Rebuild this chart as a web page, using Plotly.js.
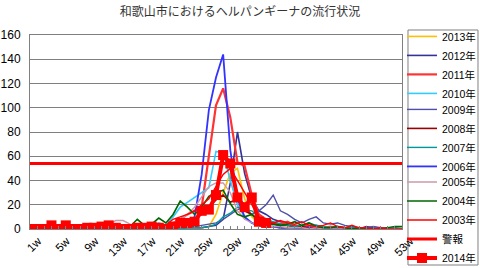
<!DOCTYPE html>
<html><head><meta charset="utf-8">
<script src="https://cdn.plot.ly/plotly-3.0.1.min.js"></script>
<style>body{margin:0;background:#fff}</style>
</head><body><div id="chart" style="width:480px;height:268px"></div>
<script>
const weekLabels = ['1w','2w','3w','4w','5w','6w','7w','8w','9w','10w','11w','12w','13w','14w','15w','16w','17w','18w','19w','20w','21w','22w','23w','24w','25w','26w','27w','28w','29w','30w','31w','32w','33w','34w','35w','36w','37w','38w','39w','40w','41w','42w','43w','44w','45w','46w','47w','48w','49w','50w','51w','52w','53w'];
const shownTicks = ['1w','5w','9w','13w','17w','21w','25w','29w','33w','37w','41w','45w','49w','53w'];

const y2013 = [0,0,0,0,0,0,0,0,0,0,0,0,0,0,0,0,0,0,0,0,0,0,1,1,1, 2,12,30,46,50,25,10,5,3,2, 1,1,2,1,0,1,0,0,1,0,0,0,0,0,0,0,0,0];
const y2012 = [0,0,0,0,0,0,0,0,0,0,0,0,0,0,0,0,0,0,0,0,1,1,1,1,1, 2,3,8,38,80,46,25,15,12,8, 6,5,3,2,2,3,2,1,2,1,1,0,2,1,0,1,0,0];
const y2011 = [0,0,0,0,0,0,0,0,0,0,0,0,0,1,1,1,1,2,2,3, 5,8,12,15,18,60,102,116,92,55,52,28,12,8,5, 4,6,3,2,3,2,1,2,1,1,0,1,0,0,1,0,0,0];
const y2010 = [0,0,0,0,0,0,0,0,0,0,0,0,1,1,2,2,3,3,5,3, 10,18,22,26,30,34,64,63,40,20,10,5,3,2,2, 1,1,1,0,1,0,0,0,0,0,0,0,0,0,0,0,0,0];
const y2009 = [0,0,0,0,0,0,0,0,0,0,0,0,0,0,0,0,0,0,1,0,1,1,2,2, 3,4,5,8,12,16,18,12,15,20,28,15,12,8,5,8,10,5,4,5,3, 2,1,1,2,1,0,1,0];
const y2008 = [0,0,0,0,0,0,0,0,0,0,0,0,0,0,0,0,0,0,1,1,2, 3,5,8,12,18,24,28,22,25,15,12,8,5,4, 3,3,2,2,1,1,1,0,1,0,0,0,0,0,0,0,0,0];
const y2007 = [0,0,0,0,0,0,0,0,0,0,0,0,0,0,0,0,0,0,0,0,0,0,1,1,1, 2,4,10,13,18,16,15,10,8,6,4,3,2, 3,5,3,2,1,1,0,1,0,0,0,0,0,0,0];
const y2006 = [0,0,0,0,0,0,0,0,0,0,0,0,0,0,0,0,0,0,0,1,1,2, 3,10,45,98,125,144,65,25,10,5,3,2,2, 1,1,1,0,1,0,0,1,0,0,0,0,0,0,0,0,0,0];
const y2005 = [0,0,0,0,0,0,0,0,1,1,2,4,7,7,4,2,2,3,3,4,5, 8,12,18,26,35,38,38,30,15,8,5,4,3,2, 2,1,1,1,0,1,0,0,0,0,0,0,0,0,0,0,0,0];
const y2004 = [0,0,0,0,0,0,0,0,0,0,0,0,0,1,2,8,3,4,9,5,12, 23,18,12,18,27,30,32,21,12,10,12,6,5,4, 3,4,6,3,5,2,1,1,2,1,0,1,0,0,0,1,2,2];
const y2003 = [0,0,0,0,0,0,0,0,0,0,0,0,0,0,1,1,1,2,2,3, 8,10,12,15,20,25,35,45,50,40,30,20,10,6,5, 7,5,4,6,3,2,3,5,2,1,3,1,1,0,1,0,0,0];
const alarmLevel = 54;
const y2014 = [0,0,0,3,0,3,0,0,1,1,2,3,1,0,0,1,1,2,1,0,2, 5,5,6,15,16,28,61,54,26,18,26,6,5];

const seriesNames = ['2013年','2012年','2011年','2010年','2009年','2008年','2007年','2006年','2005年','2004年','2003年'];
const seriesData = [y2013,y2012,y2011,y2010,y2009,y2008,y2007,y2006,y2005,y2004,y2003];
const seriesColors = ['#FFC000','#333399','#FF3333','#33CCFF','#5050A8','#990000','#009999','#3333FF','#CC99AA','#006600','#FF0000'];
const seriesWidths = [1.6,1.6,2.2,1.6,1.4,1.6,1.4,1.8,1.4,1.6,1.4];
const legendOf = i => i < 4 ? 'legend' : (i < 8 ? 'legend2' : 'legend3');

const traces = seriesNames.map((n,i)=>({
  type:'scatter', mode:'lines', name:n, legend:legendOf(i), x:weekLabels, y:seriesData[i],
  line:{color:seriesColors[i], width:seriesWidths[i]}
}));
traces.push({type:'scatter', mode:'lines', name:'警報', legend:'legend3', x:weekLabels, y:weekLabels.map(()=>alarmLevel),
  line:{color:'#FF0000', width:3}});
traces.push({type:'scatter', mode:'lines+markers', name:'2014年', legend:'legend3', x:weekLabels.slice(0,y2014.length), y:y2014,
  line:{color:'#FF0000', width:4}, marker:{symbol:'square', size:10, color:'#FF0000'}});

const font = 'Liberation Sans, Arial, "Noto Sans CJK JP", sans-serif';
const legendStyle = yTop => ({x:1.0, xanchor:'left', y:yTop, yanchor:'top', borderwidth:0, bgcolor:'rgba(0,0,0,0)',
    traceorder:'normal', maxheight:300, font:{family:font, size:10.5, color:'#000'}});
const layout = {
  width:480, height:268,
  margin:{l:30, r:78, t:35, b:39, autoexpand:false},
  paper_bgcolor:'#fff', plot_bgcolor:'#fff',
  font:{family:font, size:12, color:'#000'},
  title:{text:'和歌山市におけるヘルパンギーナの流行状況', font:{family:'"Noto Sans CJK JP", sans-serif', size:12, color:'#333'}, x:0.5, xanchor:'center', y:0.97, yanchor:'top'},
  showlegend:true,
  legend:legendStyle(1.0675),
  legend2:legendStyle(0.6912),
  legend3:legendStyle(0.3170),
  shapes:[{type:'rect', xref:'paper', yref:'paper', x0:1.0161, x1:1.2043, y0:-0.1856, y1:1.0258,
    line:{color:'#808080', width:1}, fillcolor:'rgba(0,0,0,0)', layer:'below'}],
  xaxis:{type:'category', range:[0,52], tickmode:'array', tickvals:weekLabels,
    ticktext:weekLabels.map(w=>shownTicks.includes(w)?w:''),
    tickangle:-45, ticks:'inside', ticklen:3, tickcolor:'#808080', ticklabelshift:8,
    showline:true, linecolor:'#808080', mirror:true, showgrid:false, zeroline:false,
    tickfont:{size:11.5}},
  yaxis:{range:[0,160], dtick:20, showline:true, linecolor:'#808080', mirror:true,
    gridcolor:'#808080', gridwidth:1, zeroline:false, ticks:'', ticklabelstandoff:6, tickfont:{size:12}}
};
Plotly.newPlot('chart', traces, layout, {staticPlot:true});
</script></body></html>
